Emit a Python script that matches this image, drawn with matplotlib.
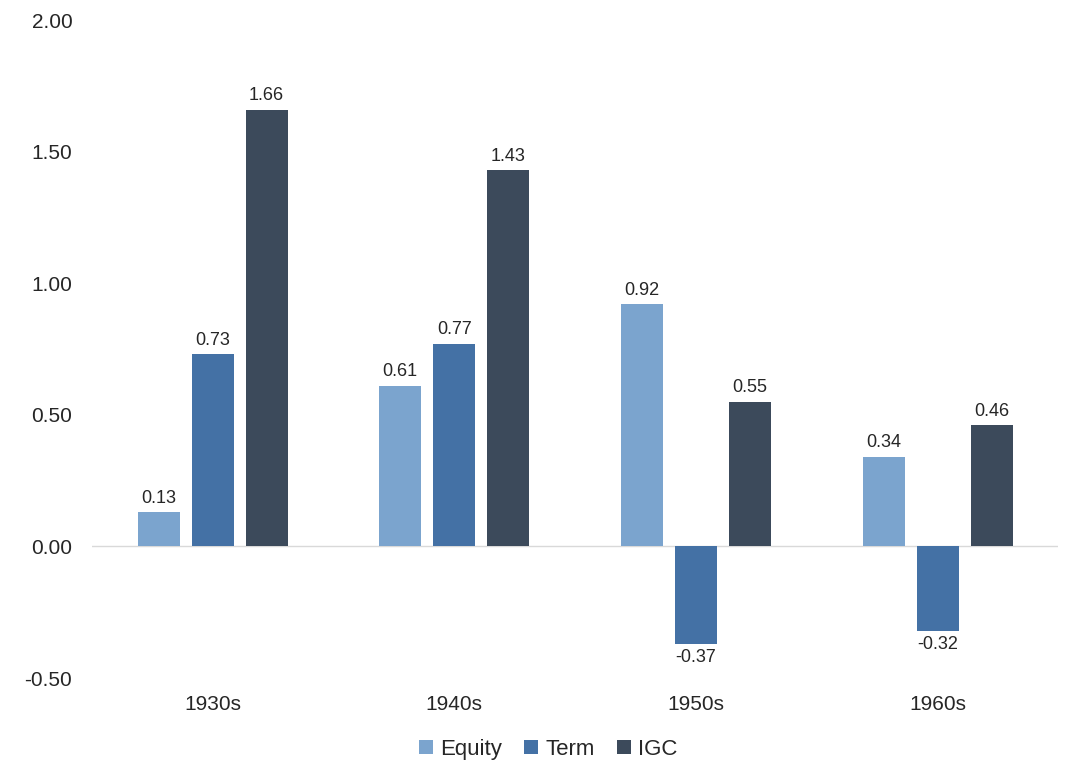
import matplotlib.pyplot as plt
import numpy as np

plt.rcParams['font.family'] = ['Liberation Sans', 'DejaVu Sans']

decades = ['1930s', '1940s', '1950s', '1960s']
equity = [0.13, 0.61, 0.92, 0.34]
term = [0.73, 0.77, -0.37, -0.32]
igc = [1.66, 1.43, 0.55, 0.46]

series = [('Equity', equity, '#7BA4CE'),
          ('Term', term, '#4471A5'),
          ('IGC', igc, '#3C4A5B')]

fig = plt.figure(figsize=(10.67, 7.78), dpi=100)
ax = fig.add_axes([0.086, 0.1285, 0.906, 0.8455])

x = np.arange(len(decades))
width = 0.174
offset = 0.2236

for i, (name, vals, color) in enumerate(series):
    pos = x + (i - 1) * offset
    bars = ax.bar(pos, vals, width, color=color, label=name, zorder=3)
    for b, v in zip(bars, vals):
        if v >= 0:
            ax.annotate(f'{v:.2f}', (b.get_x() + b.get_width() / 2, v),
                        xytext=(0, 4), textcoords='offset points',
                        ha='center', va='bottom', fontsize=13, color='#262626')
        else:
            ax.annotate(f'{v:.2f}', (b.get_x() + b.get_width() / 2, v),
                        xytext=(0, -4), textcoords='offset points',
                        ha='center', va='top', fontsize=13, color='#262626')

ax.axhline(0, color='#D9D9D9', linewidth=1, zorder=2)
ax.set_xlim(-0.5, 3.5)
ax.set_ylim(-0.5, 2.0)
ax.set_yticks(np.arange(-0.5, 2.01, 0.5))
ax.set_yticklabels([f'{t:.2f}' for t in np.arange(-0.5, 2.01, 0.5)])
ax.set_xticks(x)
ax.set_xticklabels(decades)
ax.tick_params(axis='both', length=0, labelsize=15, colors='#262626')
ax.tick_params(axis='y', pad=14)
ax.tick_params(axis='x', pad=12)
for s in ax.spines.values():
    s.set_visible(False)

ax.legend(loc='upper center', bbox_to_anchor=(0.472, -0.062), ncol=3, frameon=False,
          fontsize=16, handlelength=0.65, handleheight=0.65, handletextpad=0.3,
          columnspacing=1.0, labelcolor='#262626')

fig.savefig('out.png')
